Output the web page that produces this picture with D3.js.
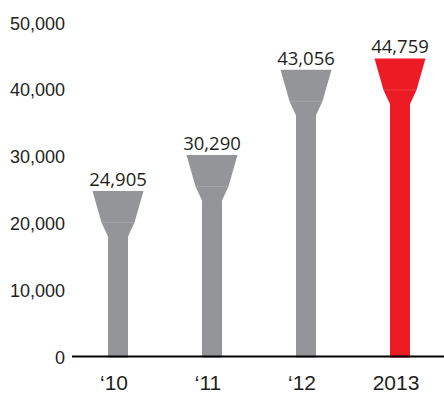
<!DOCTYPE html>
<html>
<head>
<meta charset="utf-8">
<script src="https://cdn.jsdelivr.net/npm/d3@7"></script>
<style>
  html, body { margin: 0; padding: 0; background: #fff; }
  svg { display: block; }
</style>
</head>
<body>
<svg id="chart" width="444" height="396"></svg>
<script>
// Yearly totals
const categories = ["\u201810", "\u201811", "\u201812", "2013"];
const values = [24905, 30290, 43056, 44759];
const valueLabels = ["24,905", "30,290", "43,056", "44,759"];
const yTicks = [0, 10000, 20000, 30000, 40000, 50000];

const W = 444, H = 396;
const grey = "#939598", red = "#ed1c24";
const svg = d3.select("#chart");

const x = d3.scaleBand().domain(categories).range([71, 447]).padding(0);
const y = d3.scaleLinear().domain([0, 50000]).range([357.4, 23.4]);

// Goblet-shaped bar: wide cap at the value, tapering neck, narrow stem
const capTop = 51, capBottom = 33, capH = 31.5, neckH = 14, stem = 20;
function gobletPath(cx, top, base) {
  const p = d3.path();
  p.moveTo(cx - capTop / 2, top);
  p.lineTo(cx + capTop / 2, top);
  p.lineTo(cx + capBottom / 2, top + capH);
  p.lineTo(cx + stem / 2, top + capH + neckH);
  p.lineTo(cx + stem / 2, base);
  p.lineTo(cx - stem / 2, base);
  p.lineTo(cx - stem / 2, top + capH + neckH);
  p.lineTo(cx - capBottom / 2, top + capH);
  p.closePath();
  return p.toString();
}

const bars = svg.append("g");
categories.forEach((c, i) => {
  const cx = x(c) + x.bandwidth() / 2;
  const top = y(values[i]);
  const fill = i === categories.length - 1 ? red : grey;
  bars.append("path").attr("d", gobletPath(cx, top, y(0))).attr("fill", fill);
  // faint seam where the cap meets the neck
  bars.append("line")
    .attr("x1", cx - capBottom / 2).attr("x2", cx + capBottom / 2)
    .attr("y1", top + capH).attr("y2", top + capH)
    .attr("stroke", "#fff").attr("stroke-opacity", 0.15).attr("stroke-width", 1);
  // value label
  svg.append("text")
    .attr("x", cx).attr("y", top - 5)
    .attr("text-anchor", "middle")
    .attr("font-family", "'Open Sans', 'Noto Sans', sans-serif")
    .attr("font-size", 18.5)
    .attr("fill", "#231f20")
    .text(valueLabels[i]);
});

// Baseline
svg.append("line")
  .attr("x1", 72).attr("x2", 444)
  .attr("y1", y(0) - 1).attr("y2", y(0) - 1)
  .attr("stroke", "#000").attr("stroke-width", 2);

// Y axis labels
const yAxis = d3.axisLeft(y).tickValues(yTicks).tickSize(0).tickPadding(0)
  .tickFormat(d3.format(","));
const gy = svg.append("g").attr("transform", "translate(65,0)").call(yAxis);
gy.select(".domain").remove();
gy.selectAll("text")
  .attr("font-family", "'Liberation Sans', Arial, sans-serif")
  .attr("font-size", 18)
  .attr("fill", "#231f20");

// X axis labels
const xAxis = d3.axisBottom(x).tickSize(0).tickPadding(0);
const gx = svg.append("g").attr("transform", "translate(-4,375)").call(xAxis);
gx.select(".domain").remove();
gx.selectAll("text")
  .attr("font-family", "'Liberation Sans', Arial, sans-serif")
  .attr("font-size", 21)
  .attr("fill", "#231f20");
</script>
</body>
</html>
